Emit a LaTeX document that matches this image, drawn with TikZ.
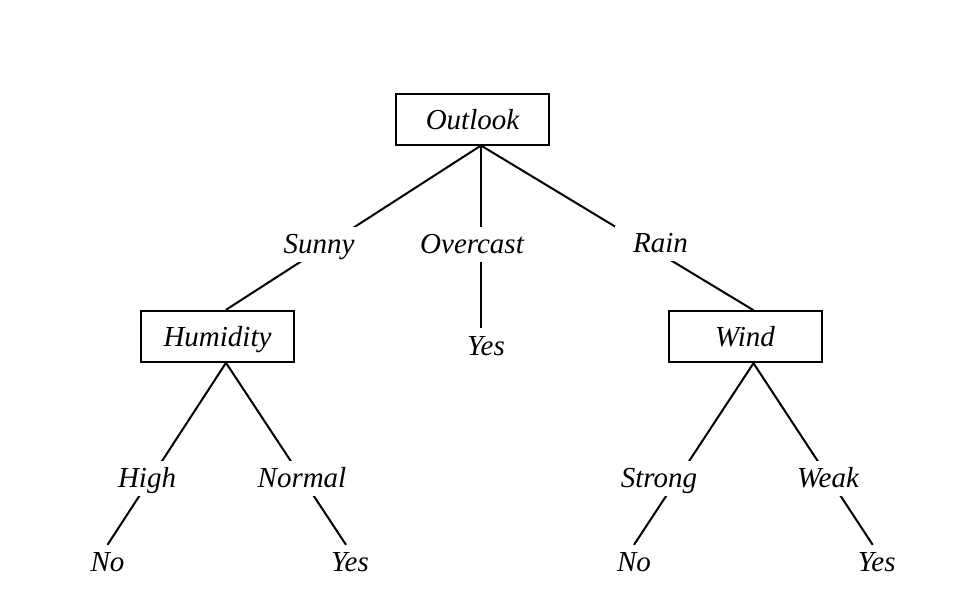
\documentclass[tikz,border=0pt]{standalone}
\usepackage{fontspec}
\setmainfont{Liberation Serif}
\usetikzlibrary{calc,backgrounds}
\begin{document}
\begin{tikzpicture}[x=0.5pt,y=-0.5pt,
  every node/.style={font=\fontsize{14.5pt}{17pt}\selectfont\itshape},
  attr/.style={draw,line width=1pt,minimum width=76.5pt,minimum height=25.5pt,inner sep=0pt,text height=10pt,text depth=0pt},
  val/.style={anchor=base,fill=white,inner xsep=9pt,inner ysep=0pt,text height=13.25pt,text depth=4.35pt},
  leaf/.style={anchor=base,inner sep=0pt,text height=13.25pt,text depth=4.35pt},
  edge/.style={line width=1pt}]
\useasboundingbox (0,0) rectangle (959,601);
% attribute boxes
\node[attr] (outlook)  at (472.5,119)   {Outlook};
\node[attr] (humidity) at (217.5,336.3) {Humidity};
\node[attr] (wind)     at (745,336.7)   {Wind};
% branch values
\node[val] (sunny)    at (319,253.3)  {Sunny};
\node[val] (overcast) at (472,253.3)  {Overcast};
\node[val] (rain)     at (660.5,252.5){Rain};
\node[val] (high)     at (147,487.7)  {High};
\node[val] (normal)   at (302,487.7)  {Normal};
\node[val] (strong)   at (659,487.5)  {Strong};
\node[val] (weak)     at (828,487.5)  {Weak};
% leaves
\node[leaf] (yesm) at (486,355)    {Yes};
\node[leaf] (no1)  at (107.5,571.7){No};
\node[leaf] (yes1) at (350,571.7)  {Yes};
\node[leaf] (no2)  at (634,571.7)  {No};
\node[leaf] (yes2) at (876.7,571.7){Yes};
% apex points
\coordinate (oa)  at ($(outlook.south)+(8.5,0)$);
\coordinate (hat) at ($(humidity.north)+(8.5,0)$);
\coordinate (hab) at ($(humidity.south)+(8.5,0)$);
\coordinate (wat) at ($(wind.north)+(8.5,0)$);
\coordinate (wab) at ($(wind.south)+(8.5,0)$);
\begin{scope}[on background layer]
\draw[edge] (oa) -- (hat);
\draw[edge] (oa) -- (oa |- yesm.north);
\draw[edge] (oa) -- (wat);
\draw[edge] (hab) -- (no1.north);
\draw[edge] (hab) -- ($(yes1.north)+(-4,0)$);
\draw[edge] (wab) -- (no2.north);
\draw[edge] (wab) -- ($(yes2.north)+(-4,0)$);
\end{scope}
\end{tikzpicture}
\end{document}
